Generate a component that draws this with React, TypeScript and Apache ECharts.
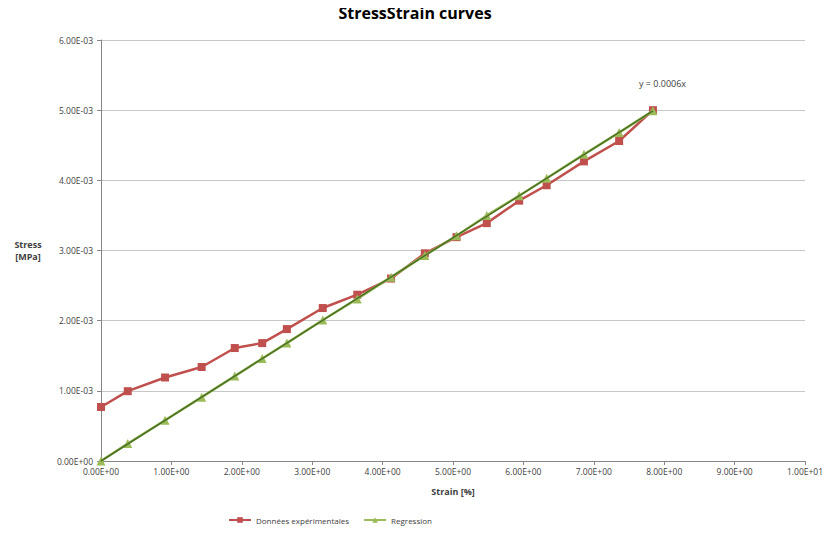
import React, { useEffect, useRef } from "react";
import * as echarts from "echarts";

const strainX = [0, 0.38, 0.91, 1.43, 1.90, 2.29, 2.64, 3.15, 3.64, 4.12, 4.60, 5.05, 5.48, 5.94, 6.33, 6.86, 7.36, 7.84];
const experimentalY = [0.00077, 0.000995, 0.00119, 0.00134, 0.00161, 0.00168, 0.00188, 0.00218, 0.00237, 0.0026, 0.00296, 0.00319, 0.00339, 0.00371, 0.00393, 0.00427, 0.00456, 0.005];
const regressionY = [0, 0.00025, 0.00058, 0.00091, 0.00121, 0.00146, 0.00168, 0.00201, 0.00231, 0.00262, 0.00293, 0.00321, 0.0035, 0.00378, 0.00403, 0.00437, 0.00468, 0.00499];
const trendX = [0, 7.84];
const trendY = [0, 0.00499];
const seriesNames = ["Données expérimentales", "Regression"];
const trendLabel = "y = 0.0006x";

function sci(v: number): string {
  if (v === 0) return "0.00E+00";
  let e = Math.floor(Math.log10(Math.abs(v)) + 1e-9);
  let m = v / Math.pow(10, e);
  if (Math.abs(m) >= 9.995) { m /= 10; e += 1; }
  return m.toFixed(2) + "E" + (e < 0 ? "-" : "+") + String(Math.abs(e)).padStart(2, "0");
}

const FONT = "Open Sans";

export default function App() {
  const ref = useRef<HTMLDivElement>(null);
  useEffect(() => {
    if (!ref.current) return;
    const chart = echarts.init(ref.current, undefined, { renderer: "svg" });
    const zip = (xs: number[], ys: number[]) => xs.map((x, i) => [x, ys[i]]);
    chart.setOption({
      animation: false,
      backgroundColor: "#ffffff",
      title: {
        text: "StressStrain curves",
        left: "center",
        top: 0,
        textStyle: { fontFamily: FONT, fontWeight: "bold", fontSize: 16, color: "#000000" },
      },
      grid: { left: 101, right: 25, top: 40, bottom: 74, containLabel: false },
      legend: {
        data: seriesNames,
        left: 228,
        top: 516,
        padding: 0,
        itemGap: 14,
        itemWidth: 22,
        itemHeight: 7,
        textStyle: { fontFamily: FONT, fontSize: 8, color: "#404040" },
      },
      xAxis: {
        type: "value",
        min: 0,
        max: 10,
        interval: 1,
        name: "Strain [%]",
        nameLocation: "middle",
        nameGap: 26,
        nameTextStyle: { fontFamily: FONT, fontWeight: "bold", fontSize: 9, color: "#404040" },
        axisLine: { show: true, lineStyle: { color: "#868686" } },
        axisTick: { show: true, length: 4, lineStyle: { color: "#868686" } },
        splitLine: { show: false },
        axisLabel: { fontFamily: FONT, fontSize: 8.5, color: "#404040", margin: 6, formatter: (v: number) => sci(v) },
      },
      yAxis: {
        type: "value",
        min: 0,
        max: 0.006,
        interval: 0.001,
        name: "Stress\n[MPa]",
        nameLocation: "middle",
        nameRotate: 0,
        nameGap: 73,
        nameTextStyle: { fontFamily: FONT, fontWeight: "bold", fontSize: 9, color: "#404040", align: "center", lineHeight: 12 },
        axisLine: { show: true, lineStyle: { color: "#868686" } },
        axisTick: { show: true, length: 4, lineStyle: { color: "#868686" } },
        splitLine: { show: true, lineStyle: { color: "#c6c6c6", width: 1 } },
        axisLabel: { fontFamily: FONT, fontSize: 8.5, color: "#404040", margin: 8, formatter: (v: number) => sci(v) },
      },
      series: [
        {
          name: seriesNames[0],
          type: "line",
          data: zip(strainX, experimentalY),
          symbol: "rect",
          symbolSize: 8,
          color: "#c0504d",
          lineStyle: { width: 2.5, color: "#c0504d" },
          itemStyle: { color: "#c0504d" },
          z: 2,
        },
        {
          name: seriesNames[1],
          type: "line",
          data: zip(strainX, regressionY),
          symbol: "triangle",
          symbolSize: 9,
          color: "#9bbb59",
          lineStyle: { width: 2.5, color: "#9bbb59" },
          itemStyle: { color: "#9bbb59" },
          z: 3,
        },
        {
          name: "trend",
          type: "line",
          data: zip(trendX, trendY),
          symbol: "none",
          lineStyle: { width: 1.5, color: "#4a7023" },
          z: 4,
          silent: true,
          label: { show: false },
          endLabel: {
            show: true,
            formatter: trendLabel,
            fontFamily: FONT,
            fontSize: 9,
            color: "#404040",
            offset: [-22, -27],
          },
        },
      ],
    });
    return () => chart.dispose();
  }, []);
  return <div ref={ref} style={{ width: 830, height: 535, margin: -8 }} />;
}
